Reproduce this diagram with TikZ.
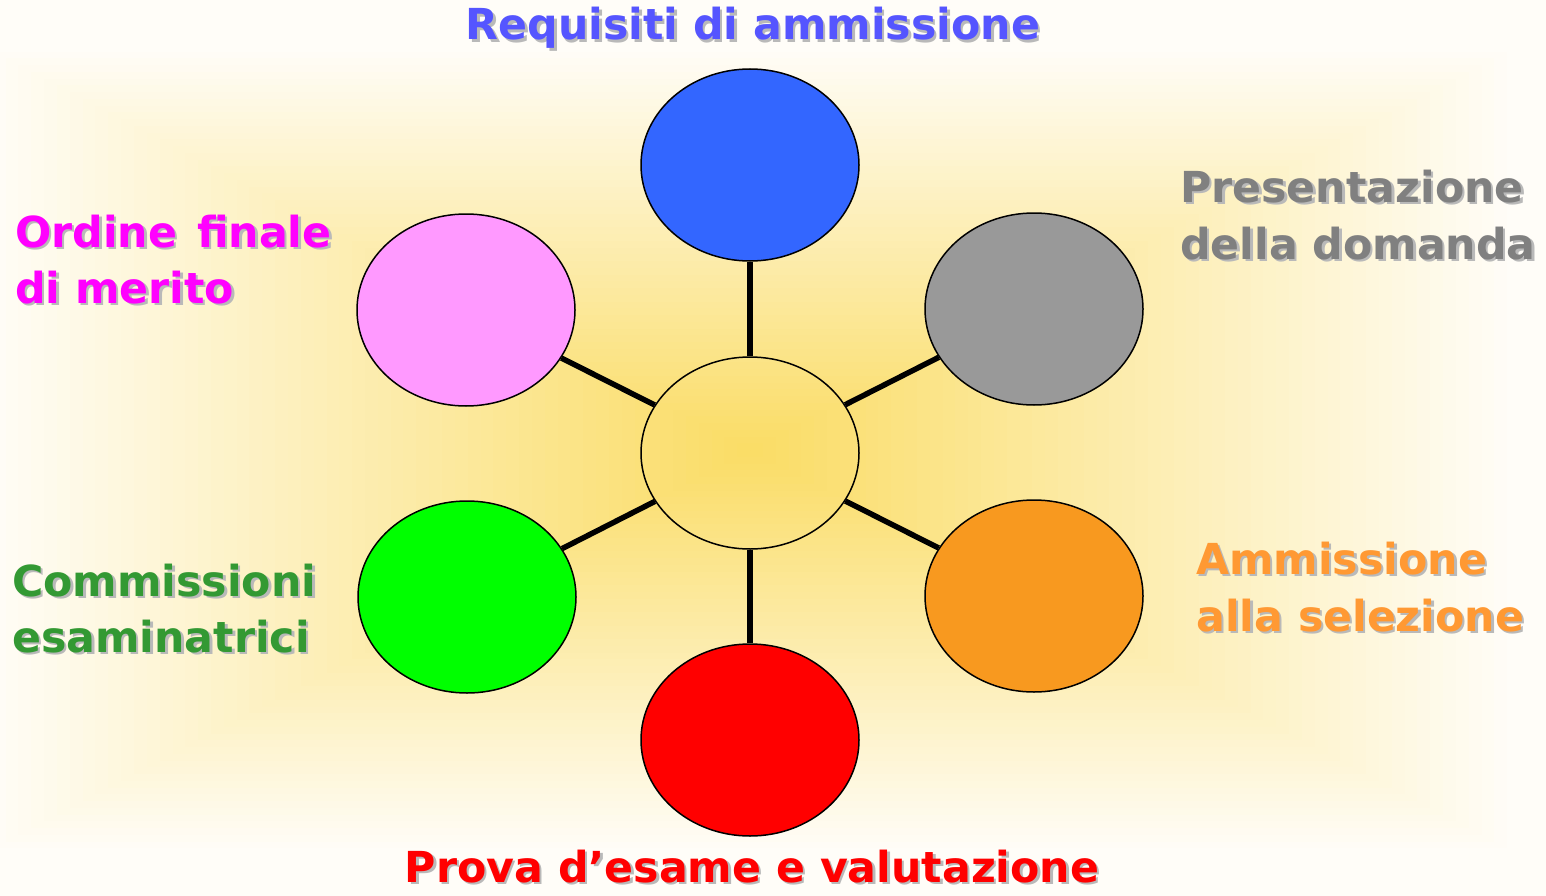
\documentclass[tikz,border=0pt]{standalone}
\usepackage{fontspec}
\setmainfont{DejaVu Sans}
\usetikzlibrary{shapes.geometric}
\definecolor{bgcenter}{RGB}{250,220,100}
\definecolor{bgouter}{RGB}{255,253,248}
\definecolor{shadowgray}{RGB}{185,185,185}
\definecolor{tblue}{RGB}{85,85,255}
\definecolor{tgray}{RGB}{128,128,128}
\definecolor{tmagenta}{RGB}{255,0,255}
\definecolor{tgreen}{RGB}{51,153,51}
\definecolor{torange}{RGB}{255,153,51}
\definecolor{tred}{RGB}{255,0,0}
\definecolor{fblue}{RGB}{51,102,255}
\definecolor{fgray}{RGB}{153,153,153}
\definecolor{fpink}{RGB}{255,153,255}
\definecolor{fgreen}{RGB}{0,255,0}
\definecolor{forange}{RGB}{248,153,31}
\definecolor{fred}{RGB}{255,0,0}
\tikzset{
  bubble/.style={ellipse, draw=black, line width=1.5pt, minimum width=218pt, minimum height=192pt, inner sep=0pt},
  spoke/.style={line width=5.5pt, draw=black},
  lbl/.style={font=\fontsize{42.7}{50}\selectfont\bfseries, inner sep=0pt},
}
\newcommand{\shlab}[6]{%
  \node[lbl, text=shadowgray, anchor=#4] (#1s) at (#2+2.5,#3+2.5) {#6};
  \node[lbl, text=#5, anchor=#4] (#1) at (#2,#3) {#6};}
\begin{document}
\begin{tikzpicture}[x=1pt,y=-1pt]
\useasboundingbox (0,0) rectangle (1546,896);
\begin{scope}
\clip (0,0) rectangle (1546,896);
\fill[bgouter] (0,0) rectangle (1546,896);
\foreach \i in {0,...,60}{
  \pgfmathsetmacro{\t}{1-\i/60}
  \pgfmathsetmacro{\p}{100*\i/60}
  \fill[bgcenter!\p!bgouter] (750-770*\t,450-405*\t) rectangle (750+770*\t,450+405*\t);
}
\end{scope}
% bubbles
\node[bubble] (c) at (750,453) {};
\node[bubble, fill=fblue] (n1) at (750,165) {};
\node[bubble, fill=fgray] (n2) at (1034,309) {};
\node[bubble, fill=forange] (n3) at (1034,596) {};
\node[bubble, fill=fred] (n4) at (750,740) {};
\node[bubble, fill=fgreen] (n5) at (467,597) {};
\node[bubble, fill=fpink] (n6) at (466,310) {};
\foreach \n in {n1,n2,n3,n4,n5,n6}{
  \draw[spoke] (c) -- (\n);
}
% labels
\shlab{l1}{753}{40}{base}{tblue}{Requisiti di ammissione}
\shlab{l2a}{1180}{202}{base west}{tgray}{Presentazione}
\shlab{l2b}{1180}{259}{base west}{tgray}{della domanda}
\shlab{l3a}{1196}{574}{base west}{torange}{Ammissione}
\shlab{l3b}{1196}{631}{base west}{torange}{alla selezione}
\shlab{l4}{752}{882}{base}{tred}{Prova d’esame e valutazione}
\shlab{l5a}{12}{596}{base west}{tgreen}{Commissioni}
\shlab{l5b}{12}{652}{base west}{tgreen}{esaminatrici}
\shlab{l6a}{15}{247}{base west}{tmagenta}{Ordine\hspace{0.12em} finale}
\shlab{l6b}{15}{303}{base west}{tmagenta}{di merito}
\end{tikzpicture}
\end{document}
